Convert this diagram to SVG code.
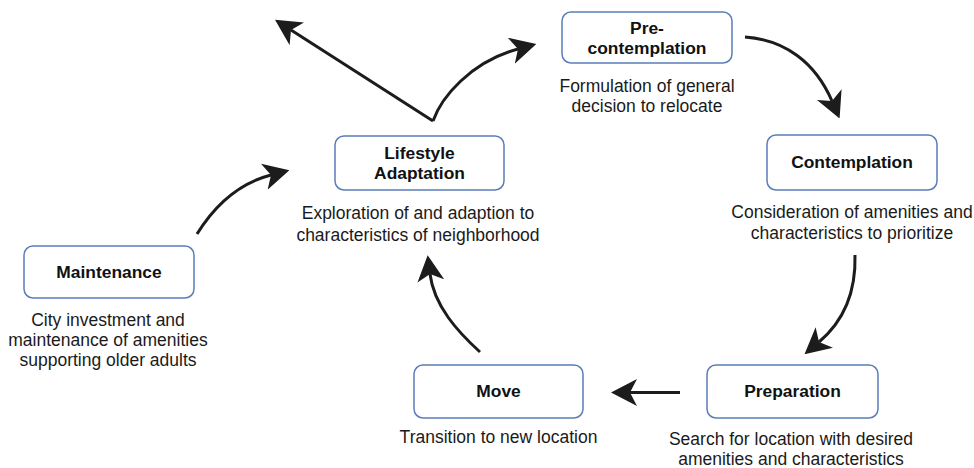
<svg xmlns="http://www.w3.org/2000/svg" width="974" height="468" viewBox="0 0 974 468">
  <style>
    .box { fill: #ffffff; stroke: #5a7db8; stroke-width: 1.5; }
    .title { font-family: "Liberation Sans", Arial, Helvetica, sans-serif; font-size: 17.4px; font-weight: bold; fill: #111111; text-anchor: middle; }
    .desc { font-family: "Liberation Sans", Arial, Helvetica, sans-serif; font-size: 17.5px; fill: #1a1a1a; text-anchor: middle; }
    .conn { fill: none; stroke: #1c1c1c; stroke-width: 3; marker-end: url(#head); }
  </style>
  <defs>
    <marker id="head" markerUnits="userSpaceOnUse" markerWidth="26" markerHeight="27" viewBox="0 0 26 27" refX="7" refY="13.5" orient="auto">
      <path d="M0,0 L26,13.5 L0,27 L7,13.5 Z" fill="#1c1c1c"/>
    </marker>
  </defs>

  <rect width="974" height="468" fill="#ffffff"/>

  <!-- stage cards -->
  <g id="precontemplation">
    <rect class="box" x="562" y="12" width="170" height="51" rx="9"/>
    <text class="title" x="647" y="34">Pre-</text>
    <text class="title" x="647" y="54">contemplation</text>
    <text class="desc" x="647" y="92">Formulation of general</text>
    <text class="desc" x="647" y="112">decision to relocate</text>
  </g>

  <g id="contemplation">
    <rect class="box" x="767" y="135" width="170" height="55" rx="9"/>
    <text class="title" x="852" y="168">Contemplation</text>
    <text class="desc" x="852" y="218">Consideration of amenities and</text>
    <text class="desc" x="852" y="239">characteristics to prioritize</text>
  </g>

  <g id="preparation">
    <rect class="box" x="707" y="365" width="171" height="53" rx="9"/>
    <text class="title" x="792.5" y="397">Preparation</text>
    <text class="desc" x="791" y="445">Search for location with desired</text>
    <text class="desc" x="791" y="465">amenities and characteristics</text>
  </g>

  <g id="move">
    <rect class="box" x="414" y="365" width="169" height="53" rx="9"/>
    <text class="title" x="498.5" y="397">Move</text>
    <text class="desc" x="498.5" y="443">Transition to new location</text>
  </g>

  <g id="lifestyle">
    <rect class="box" x="335" y="136" width="169" height="54" rx="9"/>
    <text class="title" x="419.5" y="159">Lifestyle</text>
    <text class="title" x="419.5" y="179">Adaptation</text>
    <text class="desc" x="418" y="219">Exploration of and adaption to</text>
    <text class="desc" x="418" y="241">characteristics of neighborhood</text>
  </g>

  <g id="maintenance">
    <rect class="box" x="24" y="246" width="170" height="52" rx="9"/>
    <text class="title" x="109" y="278">Maintenance</text>
    <text class="desc" x="108" y="326">City investment and</text>
    <text class="desc" x="108" y="346">maintenance of amenities</text>
    <text class="desc" x="108" y="366">supporting older adults</text>
  </g>

  <!-- cycle arrows -->
  <g id="connectors">
    <path class="conn" d="M433,121 C441,98 470,62 518,49"/>
    <path class="conn" d="M433,121 L291,30"/>
    <path class="conn" d="M745,37 C785,40 815,62 832,101"/>
    <path class="conn" d="M855,255 C856,290 845,320 819,342"/>
    <path class="conn" d="M680,392.5 L630,392.5"/>
    <path class="conn" d="M480,352 C458,332 434,306 430,274"/>
    <path class="conn" d="M197,234 C215,205 240,183 271,175"/>
  </g>
</svg>
